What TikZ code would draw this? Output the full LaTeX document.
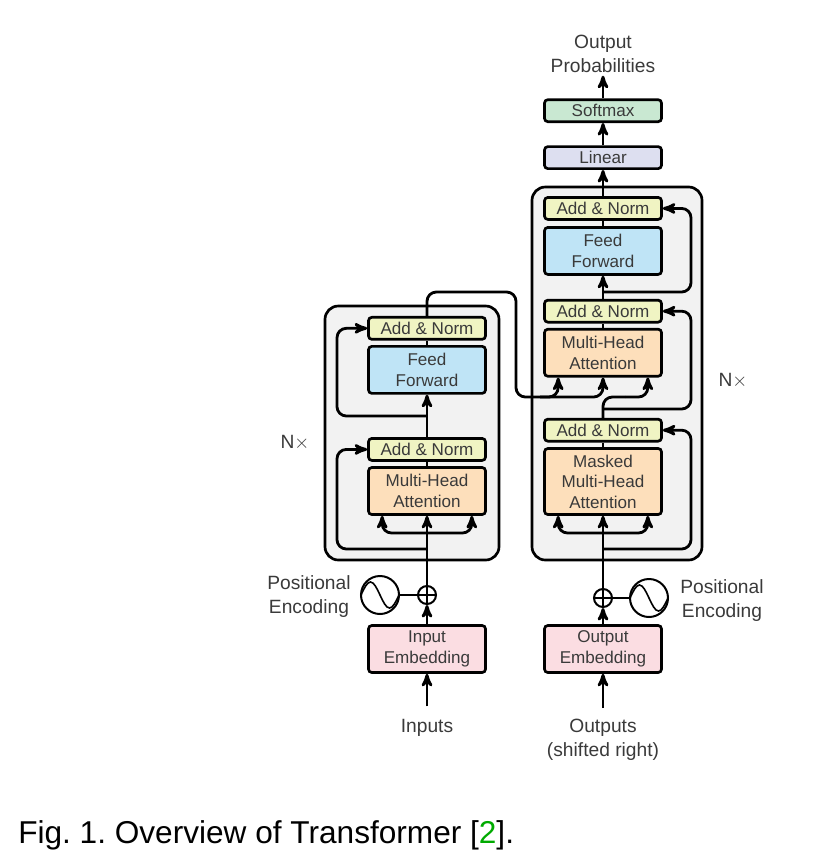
\documentclass[tikz,border=0pt]{standalone}
\usepackage{fontspec}
\setmainfont{Liberation Sans}
\usetikzlibrary{arrows, positioning}

\definecolor{normfill}{HTML}{F0F4C3}
\definecolor{feedfill}{HTML}{BFE4F6}
\definecolor{attnfill}{HTML}{FDDFBB}
\definecolor{embedfill}{HTML}{FBDDE2}
\definecolor{linearfill}{HTML}{DDDFF0}
\definecolor{softfill}{HTML}{C9E8D2}
\definecolor{stackfill}{HTML}{F2F2F2}
\definecolor{inktext}{HTML}{3A3A3A}
\definecolor{citegreen}{HTML}{00AA00}

\begin{document}
\frenchspacing
\begin{tikzpicture}[x=0.75pt, y=-0.75pt]
			\tikzset {>=stealth', flow/.style={line width=2.1pt, rounded corners=7pt},
				block/.style={draw, line width=2pt, rounded corners=2.5pt, minimum width=87.75pt, align=center, inner sep=0pt, text=inktext, font=\fontsize{12.8}{15.4}\selectfont},
				thin block/.style={block, minimum height=16.5pt},
				wide block/.style={block, minimum height=35.25pt},
				stack/.style={draw, line width=2pt, fill=stackfill, rounded corners=10pt},
				caption text/.style={align=center, inner sep=2pt, text=inktext, font=\fontsize{14.4}{18}\selectfont},
				plus/.style={circle, draw, line width=1.5pt, minimum size=13.5pt, inner sep=0pt, path picture={\draw[line width=1.1pt] (path picture bounding box.north) -- (path picture bounding box.south) (path picture bounding box.west) -- (path picture bounding box.east);}},
				wave/.style={circle, draw, line width=1.5pt, minimum size=28.5pt, inner sep=0pt, path picture={\draw[line width=1.2pt] (path picture bounding box.west) sin ++(9.5,-13) cos ++(9.5,13) sin ++(9.5,13) cos ++(9.5,-13);}}}

			\useasboundingbox (0,0) rectangle (816,861);

			\node[stack, minimum width=130.5pt, minimum height=190.5pt] (stackL) at (412,433) {};
			\node[stack, minimum width=127.5pt, minimum height=279.75pt] (stackR) at (617,373.5) {};

			\node[wide block, fill=embedfill] (embedL) at (427,649) {Input\\Embedding};
			\node[wide block, fill=attnfill] (attnL) at (427,491) {Multi-Head\\Attention};
			\node[thin block, fill=normfill, above=3.3pt of attnL] (normLa) {Add \& Norm};
			\node[wide block, fill=feedfill, above=31.8pt of normLa] (feedL) {Feed\\Forward};
			\node[thin block, fill=normfill, above=3.3pt of feedL] (normLb) {Add \& Norm};

			\node[wide block, fill=embedfill] (embedR) at (603,649) {Output\\Embedding};
			\node[block, minimum height=49.5pt, fill=attnfill] (maskR) at (603,481.5) {Masked\\Multi-Head\\Attention};
			\node[thin block, fill=normfill, above=3.5pt of maskR] (normRa) {Add \& Norm};
			\node[wide block, fill=attnfill, above=30.2pt of normRa] (attnR) {Multi-Head\\Attention};
			\node[thin block, fill=normfill, above=3.3pt of attnR] (normRb) {Add \& Norm};
			\node[wide block, fill=feedfill, above=17.3pt of normRb] (feedR) {Feed\\Forward};
			\node[thin block, fill=normfill, above=4pt of feedR] (normRc) {Add \& Norm};
			\node[thin block, fill=linearfill, above=19.6pt of normRc] (linearR) {Linear};
			\node[thin block, fill=softfill, above=16.7pt of linearR] (softR) {Softmax};

			\node[plus] (plusL) at (427,595) {};
			\node[wave] (waveL) at (380,595) {};
			\node[plus] (plusR) at (603,598) {};
			\node[wave] (waveR) at (649,598) {};

			\node[caption text] (posL) at (309,596.5) {Positional\\Encoding};
			\node[caption text] (posR) at (722,601) {Positional\\Encoding};
			\node[caption text] (inputs) at (427,728) {Inputs};
			\node[caption text, anchor=north] (outputs) at (603,716) {Outputs\\(shifted right)};
			\node[caption text] (probs) at (603,54) {Output\\Probabilities};
			\node[caption text] (timesL) at (295,443) {N$\times$};
			\node[caption text] (timesR) at (733,381) {N$\times$};
			\node[anchor=west, inner sep=0pt, font=\fontsize{23.7}{26}\selectfont] (figcap) at (18,835) {Fig. 1. Overview of Transformer [{\color{citegreen}2}].};

			\coordinate (tapLa) at (427,549);
			\coordinate (forkL) at (427,533);
			\coordinate (tapLb) at (427,416);
			\coordinate (railL) at (337,0);
			\coordinate (tapRa) at (603,549);
			\coordinate (forkR) at (603,533);
			\coordinate (tapRb) at (603,409);
			\coordinate (tapRc) at (603,292);
			\coordinate (railR) at (691,0);
			\coordinate (memtop) at (516,292);
			\coordinate (membot) at (516,397);
			\coordinate (memjoin) at (540,397);
			\coordinate (queryjoin) at (625,397);

			\draw[flow, ->, shorten <=7.5pt] (inputs) -- (embedL);
			\draw[flow, ->] (embedL) -- (plusL);
			\draw[flow, ->] (plusL) -- (attnL);
			\draw[flow] (plusL) -- (waveL);
			\draw[flow, ->] (forkL) -| ([xshift=11.25pt]attnL.south west);
			\draw[flow, ->] (forkL) -| ([xshift=-11.25pt]attnL.south east);
			\draw[flow, ->] (tapLa) -| (railL |- normLa) -- (normLa);
			\draw[flow] (attnL) -- (normLa);
			\draw[flow, ->] (normLa) -- (feedL);
			\draw[flow, ->] (tapLb) -| (railL |- normLb) -- (normLb);
			\draw[flow] (feedL) -- (normLb);
			\draw[flow, ->] (normLb.north) |- (memtop) -- (membot) -| ([xshift=11.25pt]attnR.south west);
			\draw[flow, ->] (memjoin) -| (attnR);

			\draw[flow, ->, shorten <=6pt] (outputs) -- (embedR);
			\draw[flow, ->] (embedR) -- (plusR);
			\draw[flow, ->] (plusR) -- (maskR);
			\draw[flow] (plusR) -- (waveR);
			\draw[flow, ->] (forkR) -| ([xshift=11.25pt]maskR.south west);
			\draw[flow, ->] (forkR) -| ([xshift=-11.25pt]maskR.south east);
			\draw[flow, ->] (tapRa) -| (railR |- normRa) -- (normRa);
			\draw[flow] (maskR) -- (normRa);
			\draw[flow] (normRa.north) |- (queryjoin);
			\draw[flow, ->] (queryjoin) -| ([xshift=-11.25pt]attnR.south east);
			\draw[flow, ->] (tapRb) -| (railR |- normRb) -- (normRb);
			\draw[flow] (attnR) -- (normRb);
			\draw[flow, ->] (normRb) -- (feedR);
			\draw[flow, ->] (tapRc) -| (railR |- normRc) -- (normRc);
			\draw[flow] (feedR) -- (normRc);
			\draw[flow, ->] (normRc) -- (linearR);
			\draw[flow, ->] (linearR) -- (softR);
			\draw[flow, ->] (softR) -- (probs);
		\end{tikzpicture}
\end{document}
